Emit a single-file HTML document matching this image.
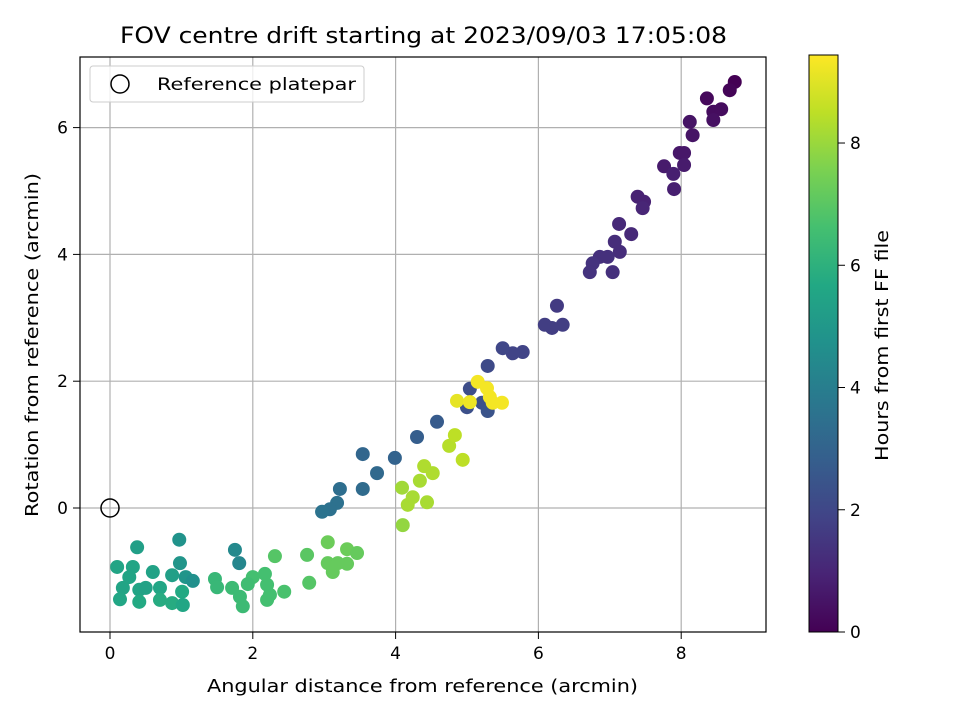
<!DOCTYPE html>
<html><head><meta charset="utf-8"><style>
body{margin:0;background:#fff;font-family:"Liberation Sans","DejaVu Sans",sans-serif}
svg text{font-family:"DejaVu Sans","Liberation Sans",sans-serif;fill:#000}
</style></head><body>
<svg id="chart" width="960" height="720" viewBox="0 0 960 720" xmlns="http://www.w3.org/2000/svg">
<defs><linearGradient id="vir" x1="0" y1="1" x2="0" y2="0">
<stop offset="0" stop-color="#440154"/><stop offset="0.1" stop-color="#482475"/><stop offset="0.2" stop-color="#414487"/><stop offset="0.3" stop-color="#355f8d"/><stop offset="0.4" stop-color="#2a788e"/><stop offset="0.5" stop-color="#21918c"/><stop offset="0.6" stop-color="#22a884"/><stop offset="0.7" stop-color="#44bf70"/><stop offset="0.8" stop-color="#7ad151"/><stop offset="0.9" stop-color="#bddf26"/><stop offset="1" stop-color="#fde725"/>
</linearGradient></defs>
<rect width="960" height="720" fill="#fff"/>
<text x="120" y="43" font-size="22" textLength="607" lengthAdjust="spacingAndGlyphs">FOV centre drift starting at 2023/09/03 17:05:08</text>
<g id="grid"></g>
<g id="pts"></g>
<rect x="80" y="57" width="686" height="575" fill="none" stroke="#000" stroke-width="1.2"/>
<g id="axes"></g>
<text x="207" y="692" font-size="18" textLength="431" lengthAdjust="spacingAndGlyphs">Angular distance from reference (arcmin)</text>
<text transform="translate(38,517) rotate(-90)" font-size="18" textLength="344" lengthAdjust="spacingAndGlyphs">Rotation from reference (arcmin)</text>
<g>
<rect x="90" y="66" width="274" height="36" rx="3" fill="#fff" fill-opacity="0.8" stroke="#ccc"/>
<circle cx="120" cy="84" r="9" fill="none" stroke="#000" stroke-width="1.5"/>
<text x="157" y="90" font-size="17" textLength="199" lengthAdjust="spacingAndGlyphs">Reference platepar</text>
</g>
<rect x="809" y="55" width="29" height="577" fill="url(#vir)" stroke="#000" stroke-width="1"/>
<g id="cbar"></g>
<text transform="translate(888,461) rotate(-90)" font-size="18" textLength="231" lengthAdjust="spacingAndGlyphs">Hours from first FF file</text>
</svg>
<script>
const xs=[8.75,8.68,8.36,8.45,8.56,8.45,8.12,8.16,7.98,8.04,8.04,7.76,7.89,7.90,7.39,7.48,7.46,7.13,7.30,7.07,7.14,6.86,6.97,6.76,6.72,7.04,6.26,6.34,6.19,6.09,5.78,5.64,5.50,5.29,5.04,5.00,5.21,5.29,4.58,4.30,3.99,3.54,3.74,3.54,3.22,3.18,3.08,2.97,
1.75,1.81,0.97,0.98,1.06,1.16,0.38,0.10,0.32,0.60,0.87,0.27,0.18,0.41,0.50,0.70,1.01,0.14,0.41,0.70,0.87,1.02,
1.47,1.50,1.71,1.82,1.86,2.00,2.17,2.20,1.93,2.24,2.44,2.20,2.31,2.76,2.79,3.05,3.32,3.46,3.05,3.12,3.32,3.19,
4.10,4.09,4.17,4.24,4.44,4.34,4.40,4.52,4.75,4.83,4.94,
4.86,5.04,5.15,5.28,5.32,5.36,5.49];
const ys=[6.72,6.59,6.46,6.25,6.29,6.12,6.09,5.88,5.60,5.60,5.41,5.39,5.27,5.03,4.91,4.83,4.73,4.48,4.32,4.20,4.04,3.96,3.96,3.86,3.72,3.72,3.19,2.89,2.84,2.89,2.46,2.44,2.52,2.24,1.88,1.59,1.66,1.53,1.36,1.12,0.79,0.85,0.55,0.30,0.30,0.08,-0.02,-0.06,
-0.66,-0.87,-0.50,-0.87,-1.09,-1.15,-0.62,-0.93,-0.93,-1.01,-1.06,-1.09,-1.26,-1.29,-1.26,-1.26,-1.32,-1.44,-1.48,-1.45,-1.50,-1.53,
-1.12,-1.25,-1.26,-1.40,-1.55,-1.09,-1.04,-1.21,-1.20,-1.37,-1.32,-1.45,-0.76,-0.74,-1.18,-0.54,-0.65,-0.71,-0.87,-1.01,-0.88,-0.87,
-0.27,0.32,0.05,0.17,0.09,0.43,0.66,0.55,0.98,1.15,0.76,
1.69,1.67,1.99,1.89,1.75,1.66,1.66];
const hours=[0.0,0.1,0.2,0.3,0.3,0.4,0.5,0.5,0.6,0.6,0.7,0.7,0.8,0.8,0.9,0.9,1.0,1.1,1.1,1.2,1.2,1.3,1.3,1.4,1.4,1.3,1.6,1.7,1.7,1.7,1.9,1.9,2.0,2.1,2.2,2.3,2.3,2.4,2.7,2.8,3.0,3.1,3.2,3.3,3.4,3.5,3.5,3.6,
4.4,4.3,4.8,4.9,4.9,4.7,5.3,5.5,5.5,5.4,5.3,5.5,5.5,5.5,5.4,5.6,5.7,5.6,5.7,5.8,5.8,5.6,
6.3,6.3,6.4,6.4,6.4,6.6,6.6,6.6,6.5,6.6,6.7,6.6,6.9,7.0,6.9,7.3,7.3,7.2,7.2,7.2,7.2,7.2,
7.9,8.1,8.2,8.2,8.2,8.2,8.3,8.3,8.4,8.5,8.5,
9.1,9.2,9.3,9.3,9.3,9.3,9.3];
const xTicks=[0,2,4,6,8];
const yTicks=[0,2,4,6];
const cTicks=[0,2,4,6,8];
const NS='http://www.w3.org/2000/svg';
const X=v=>110+v*71.4, Y=v=>508-v*63.4;
const HMAX=9.44, C=v=>632-v/HMAX*577;
const stops=[[68,1,84],[72,36,117],[65,68,135],[53,95,141],[42,120,142],[33,145,140],[34,168,132],[68,191,112],[122,209,81],[189,223,38],[253,231,37]];
function vir(h){let t=Math.max(0,Math.min(1,h/HMAX))*10;let i=Math.min(9,Math.floor(t)),f=t-i;const a=stops[i],b=stops[i+1];return 'rgb('+a.map((c,k)=>Math.round(c+(b[k]-c)*f)).join(',')+')';}
function mk(tag,at,parent){const e=document.createElementNS(NS,tag);for(const k in at)e.setAttribute(k,at[k]);parent.appendChild(e);return e;}
const grid=document.getElementById('grid'),axes=document.getElementById('axes'),pts=document.getElementById('pts'),cbar=document.getElementById('cbar');
xTicks.forEach(v=>{const g=mk('line',{x1:X(v),x2:X(v),y1:57,y2:632,stroke:'#b0b0b0','stroke-width':1.2},grid);


mk('line',{x1:X(v),x2:X(v),y1:632,y2:639,stroke:'#000'},axes);
const t=mk('text',{x:X(v),y:659,'font-size':17,'text-anchor':'middle'},axes);t.textContent=v;

});
yTicks.forEach(v=>{const g=mk('line',{x1:80,x2:766,y1:Y(v),y2:Y(v),stroke:'#b0b0b0','stroke-width':1.2},grid);


mk('line',{x1:73,x2:80,y1:Y(v),y2:Y(v),stroke:'#000'},axes);
const t=mk('text',{x:68,y:Y(v)+6,'font-size':17,'text-anchor':'end'},axes);t.textContent=v;

});
cTicks.forEach(v=>{mk('line',{x1:838,x2:845,y1:C(v),y2:C(v),stroke:'#000'},cbar);
const t=mk('text',{x:850,y:C(v)+6,'font-size':17},cbar);t.textContent=v;

});
xs.forEach((x,i)=>{const c=mk('circle',{cx:X(x),cy:Y(ys[i]),r:7,fill:vir(hours[i])},pts);

});
const ref=mk('circle',{cx:X(0),cy:Y(0),r:9,fill:'none',stroke:'#000','stroke-width':1.5},pts);


</script>
</body></html>
